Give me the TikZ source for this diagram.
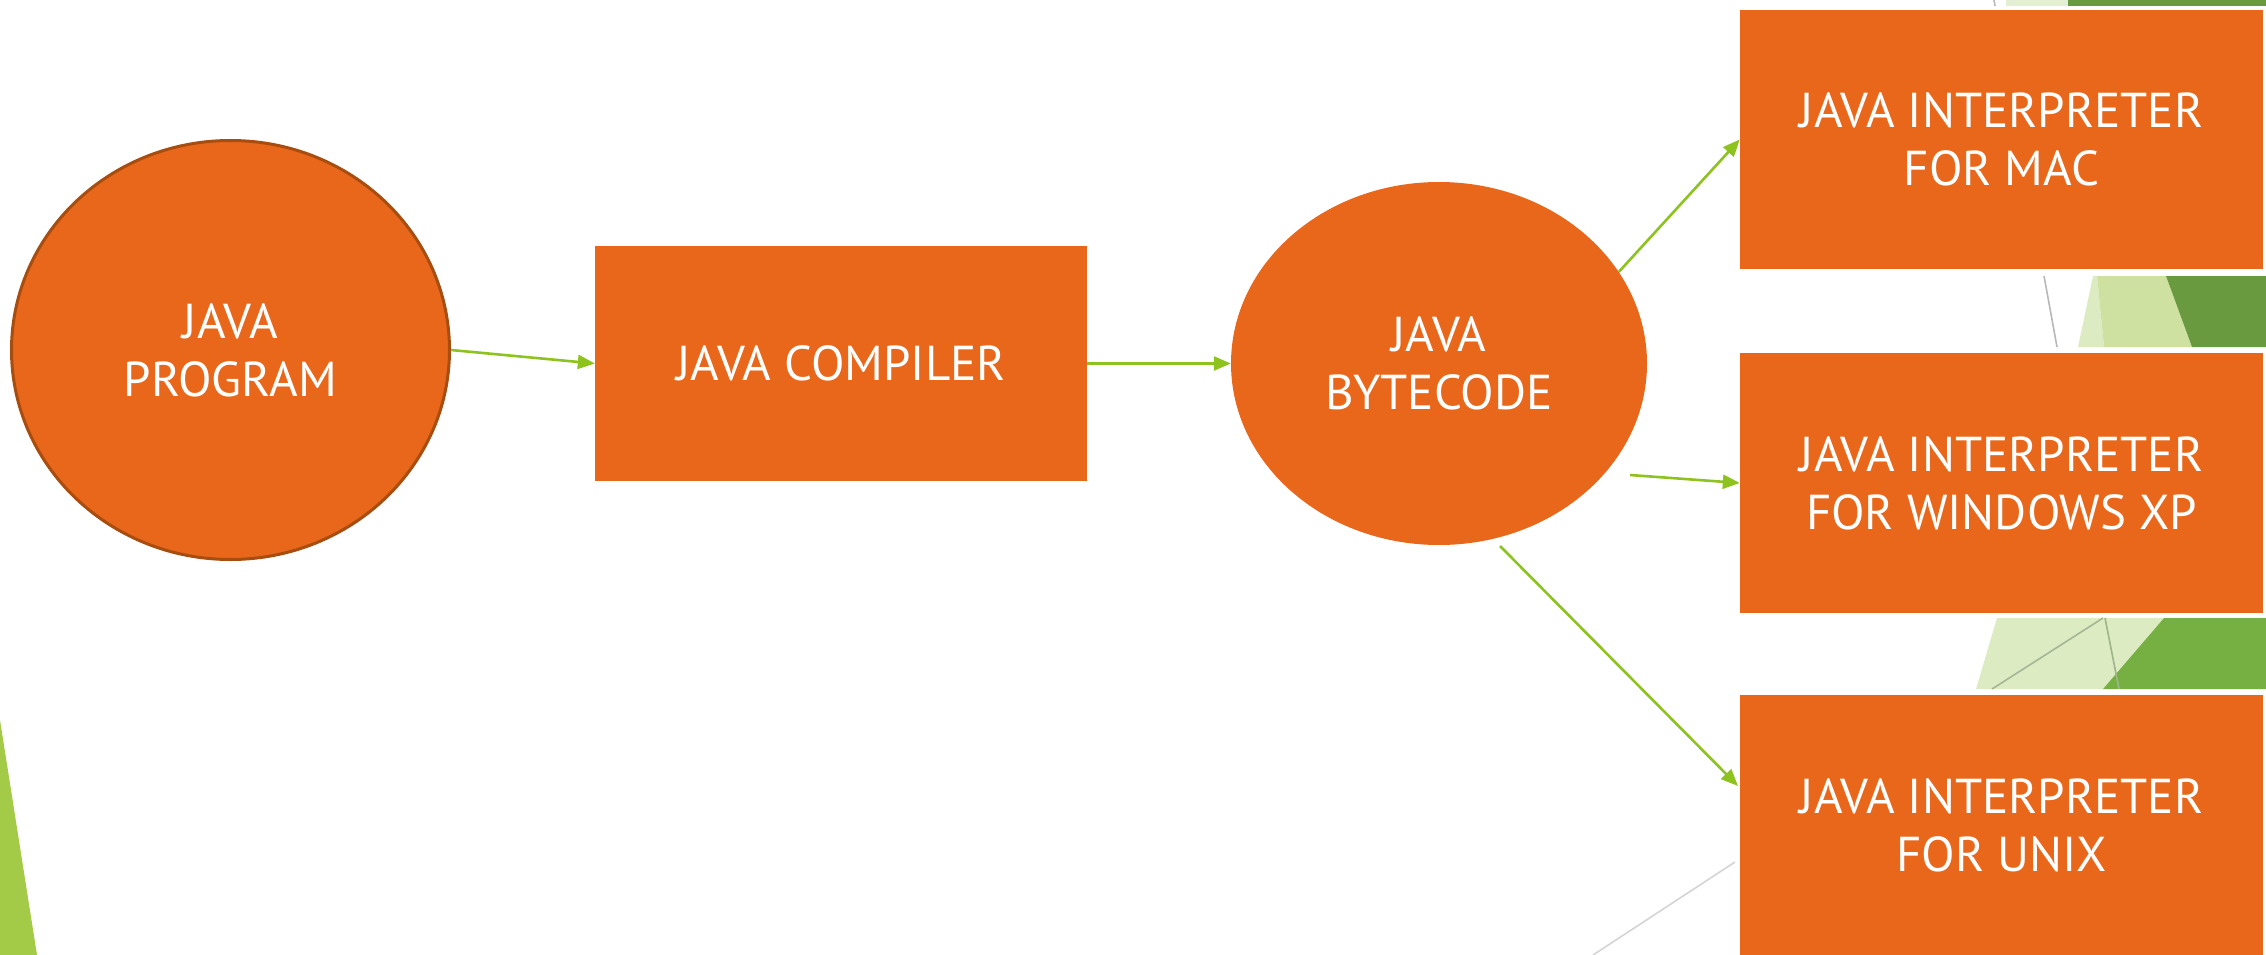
\documentclass[tikz,border=0pt]{standalone}
\usepackage{fontspec}
\setmainfont{PT Sans}
\usetikzlibrary{shapes.geometric,arrows.meta}
\definecolor{jorange}{HTML}{E8671A}
\definecolor{jborder}{HTML}{A84D10}
\definecolor{jarrow}{HTML}{8DC21F}
\definecolor{gLight}{HTML}{DDEBC2}
\definecolor{gMid}{HTML}{CFE1A0}
\definecolor{gDark}{HTML}{6A9A40}
\definecolor{gGreen}{HTML}{76B043}
\definecolor{gTri}{HTML}{A3CB47}
\definecolor{gTopL}{HTML}{E3EFD3}
\definecolor{gLine}{HTML}{B8B8B8}
\tikzset{
  lbl/.style={text=white,font=\fontsize{49}{58}\selectfont,align=center},
  ovalnode/.style={ellipse,fill=jorange,inner sep=0pt,lbl},
  boxnode/.style={rectangle,fill=jorange,inner sep=0pt,lbl},
  flow/.style={draw=jarrow,line width=2.6pt,-{Triangle[length=17pt,width=14pt]}},
  deco/.style={draw=gLine,line width=1.6pt}
}
\begin{document}
\begin{tikzpicture}[x=1pt,y=-1pt]
\useasboundingbox (0,0) rectangle (2266,955);
% background decorations
\fill[gTri] (0,720) -- (37,955) -- (0,955) -- cycle;
\fill[gTopL] (2006,0) -- (2068,0) -- (2068,6) -- (2006,6) -- cycle;
\fill[gDark] (2068,0) -- (2266,0) -- (2266,6) -- (2068,6) -- cycle;
\draw[deco] (1994,0) -- (1995,6);
% band 2
\fill[gLight] (2078,347) -- (2093,276) -- (2097,276) -- (2104,347) -- cycle;
\fill[gMid] (2097,276) -- (2166,276) -- (2192,347) -- (2104,347) -- cycle;
\fill[gDark] (2166,276) -- (2266,276) -- (2266,347) -- (2192,347) -- cycle;
\draw[deco] (2044,276) -- (2057,347);
% band 3
\fill[gLight] (1976,689) -- (1997,618) -- (2164,618) -- (2103,689) -- cycle;
\fill[gGreen] (2164,618) -- (2266,618) -- (2266,689) -- (2103,689) -- cycle;
\draw[draw=gLine!70!gGreen,line width=1.6pt] (1992,689) -- (2103,618);
\draw[draw=gLine!60!gGreen,line width=1.6pt] (2105,618) -- (2119,689);
\draw[draw=gLine!60,line width=1.6pt] (1593,955) -- (1735,862);
% nodes
\node[ovalnode,draw=jborder,line width=3pt,minimum width=438pt,minimum height=419pt] (prog) at (230.5,350) {JAVA\\PROGRAM};
\node[boxnode,minimum width=492pt,minimum height=235pt] (comp) at (841,363.5) {JAVA COMPILER};
\node[ovalnode,minimum width=416pt,minimum height=363pt] (bc) at (1439,363.5) {JAVA\\BYTECODE};
\node[boxnode,minimum width=523pt,minimum height=259pt] (m1) at (2001.5,139.5) {JAVA INTERPRETER\\FOR MAC};
\node[boxnode,minimum width=523pt,minimum height=260pt] (m2) at (2001.5,483) {JAVA INTERPRETER\\FOR WINDOWS XP};
\node[boxnode,minimum width=523pt,minimum height=260pt] (m3) at (2001.5,825) {JAVA INTERPRETER\\FOR UNIX};
% connectors
\coordinate (s4) at (1630,475);
\coordinate (s5) at (1500,546);
\coordinate (e5) at (1738,786);
\draw[flow] (prog.east) -- (comp.west);
\draw[flow] (comp.east) -- (bc.west);
\draw[flow] (bc.27.5) -- (m1.west);
\draw[flow] (s4) -- (m2.west);
\draw[flow] (s5) -- (e5);
\end{tikzpicture}
\end{document}
